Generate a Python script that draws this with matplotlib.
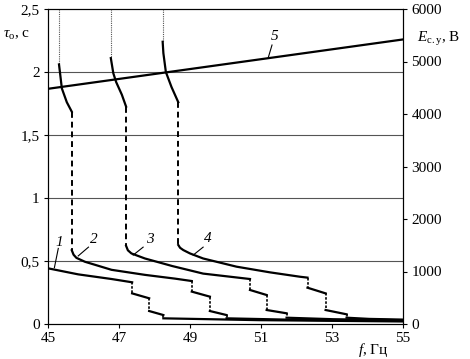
import matplotlib.pyplot as plt

plt.rcParams['font.family'] = ['Liberation Serif', 'DejaVu Serif']
plt.rcParams['mathtext.fontset'] = 'custom'
plt.rcParams['mathtext.rm'] = 'Liberation Serif'
plt.rcParams['mathtext.it'] = 'Liberation Serif:italic'

# --- данные ---
# верхние участки кривых 2, 3, 4 (тау_о, с)
up2_f = [45.31, 45.34, 45.39, 45.53, 45.67]
up2_t = [2.06, 1.99, 1.87, 1.76, 1.685]
up3_f = [46.77, 46.84, 46.92, 47.08, 47.2]
up3_t = [2.11, 1.99, 1.92, 1.82, 1.725]
up4_f = [48.23, 48.25, 48.32, 48.48, 48.67]
up4_t = [2.24, 2.15, 2.0, 1.88, 1.76]

# нижние участки (плавная часть до первой ступени)
lo1_f = [45.0, 45.85, 46.79, 47.37]
lo1_t = [0.442, 0.394, 0.357, 0.331]
lo2_f = [45.67, 45.72, 45.8, 46.04, 46.79, 47.73, 48.58, 49.05]
lo2_t = [0.585, 0.55, 0.525, 0.494, 0.43, 0.39, 0.36, 0.341]
lo3_f = [47.2, 47.25, 47.35, 47.73, 48.5, 49.37, 50.69]
lo3_t = [0.62, 0.585, 0.56, 0.52, 0.46, 0.40, 0.357]
lo4_f = [48.67, 48.72, 48.81, 49.0, 49.37, 50.31, 51.25, 52.1, 52.31]
lo4_t = [0.627, 0.605, 0.587, 0.56, 0.52, 0.455, 0.41, 0.375, 0.368]

# ступени: частота ступени, значение до и после
steps1 = [(47.37, 0.331, 0.243), (47.85, 0.204, 0.103), (48.25, 0.071, 0.045)]
steps2 = [(49.05, 0.341, 0.257), (49.56, 0.217, 0.103), (50.03, 0.071, 0.045)]
steps3 = [(50.69, 0.357, 0.27), (51.16, 0.23, 0.111), (51.72, 0.085, 0.05)]
steps4 = [(52.31, 0.368, 0.288), (52.82, 0.243, 0.111), (53.41, 0.077, 0.05)]
tail_end = [0.02, 0.025, 0.03, 0.035]

# кривая 5 (E_с.у, В)
e_f = [45, 55]
e_v = [4480, 5420]

labels = ['1', '2', '3', '4', '5']

fig = plt.figure(figsize=(4.7, 3.59), dpi=100)
ax = fig.add_axes([48 / 470, 35 / 359, 355 / 470, 315 / 359])
ax.set_xlim(45, 55)
ax.set_ylim(0, 2.5)

for g in [0.5, 1, 1.5, 2]:
    ax.axhline(g, color='#555555', lw=0.8, zorder=1)

# верхние части и вертикальные связки
for uf, ut, lf, lt in [(up2_f, up2_t, lo2_f, lo2_t),
                       (up3_f, up3_t, lo3_f, lo3_t),
                       (up4_f, up4_t, lo4_f, lo4_t)]:
    ax.plot([uf[0], uf[0]], [2.5, ut[0]], color='#555555', lw=0.8,
            ls=(0, (1, 1)))
    ax.plot(uf, ut, color='black', lw=1.6)
    ax.plot([uf[-1], lf[0]], [ut[-1], lt[0]], color='black', lw=1.4,
            ls=(0, (3, 2)))

# нижние части со ступенями
for lf, lt, st, te in [(lo1_f, lo1_t, steps1, tail_end[0]),
                       (lo2_f, lo2_t, steps2, tail_end[1]),
                       (lo3_f, lo3_t, steps3, tail_end[2]),
                       (lo4_f, lo4_t, steps4, tail_end[3])]:
    ax.plot(lf, lt, color='black', lw=1.6)
    for i, (sf, a, b) in enumerate(st):
        ax.plot([sf, sf], [a, b], color='black', lw=1.2, ls=(0, (1.5, 1)))
        if i + 1 < len(st):
            nf, na, _ = st[i + 1]
            ax.plot([sf, nf], [b, na], color='black', lw=1.6)
        else:
            mid = sf + (55 - sf) * 0.4
            ax.plot([sf, mid, 55], [b, (b + te) / 2 - 0.002, te],
                    color='black', lw=1.6)

ax2 = ax.twinx()
ax2.set_ylim(0, 6000)
ax2.plot(e_f, e_v, color='black', lw=1.6)

# подписи кривых
lab_pos = [(45.31, 0.65), (46.3, 0.667), (47.87, 0.667), (49.5, 0.675), (51.37, 2.278)]
lead = [((45.29, 0.60), (45.18, 0.447)),
        ((46.14, 0.61), (45.85, 0.54)),
        ((47.68, 0.61), (47.4, 0.547)),
        ((49.37, 0.61), (49.09, 0.547)),
        ((51.31, 2.214), (51.2, 2.11))]
for lab, (x, y), (p0, p1) in zip(labels, lab_pos, lead):
    ax.text(x, y, lab, style='italic', fontsize=11, ha='center', va='center')
    ax.plot([p0[0], p1[0]], [p0[1], p1[1]], color='black', lw=0.8)

ax.set_xticks([45, 47, 49, 51, 53, 55])
ax.set_yticks([0, 0.5, 1, 1.5, 2, 2.5])
ax.set_yticklabels(['0', '0,5', '1', '1,5', '2', '2,5'])
ax2.set_yticks([0, 1000, 2000, 3000, 4000, 5000, 6000])
for a in (ax, ax2):
    a.tick_params(labelsize=11, length=3, width=0.8, direction='out', pad=3)
    for s in a.spines.values():
        s.set_linewidth(0.8)

fig.text(3 / 470, 1 - 35 / 359, r'$\tau_{\mathrm{о}}$, с', fontsize=11, va='center')
fig.text(417 / 470, 1 - 39 / 359, r'$E_{\mathrm{с.у}}$, В', fontsize=11, va='center')
fig.text(358 / 470, 1 - 350 / 359, r'$f$, Гц', fontsize=11, va='center')

fig.savefig('out.png', dpi=100)
